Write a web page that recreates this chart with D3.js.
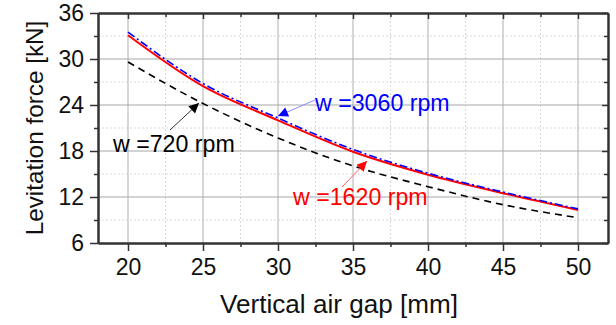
<!DOCTYPE html>
<html>
<head>
<meta charset="utf-8">
<script src="https://cdn.jsdelivr.net/npm/d3@7"></script>
<style>
  body { margin: 0; background: #fff; }
  svg { display: block; font-family: "Liberation Sans", Arial, sans-serif; }
</style>
</head>
<body>
<div id="chart"></div>
<script>
// air gap [mm] and levitation force [kN]
const gap = [20, 25, 30, 35, 40, 45, 50];
const force720 = [29.6, 24.2, 19.7, 16.05, 13.35, 11.0, 9.3];
const force1620 = [33.1, 26.45, 22.0, 17.9, 14.9, 12.5, 10.3];
const force3060 = [33.5, 26.8, 22.3, 18.2, 15.1, 12.65, 10.45];
const xTicks = [20, 25, 30, 35, 40, 45, 50];
const yTicks = [6, 12, 18, 24, 30, 36];

const width = 616, height = 325;
const margin = { left: 98, right: 8, top: 13, bottom: 82 };

const svg = d3.select("#chart").append("svg")
    .attr("width", width)
    .attr("height", height);

const x = d3.scaleLinear().domain([18, 52]).range([margin.left, width - margin.right]);
const y = d3.scaleLinear().domain([6, 36]).range([height - margin.bottom, margin.top]);

const minorX = d3.range(22.5, 52, 5);
const minorY = d3.range(9, 36, 6);

// scale a text's font so it spans about w pixels, like the reference
function fitWidth(sel, w) {
    const fs = parseFloat(sel.attr("font-size"));
    const len = sel.node().getComputedTextLength();
    sel.attr("font-size", (fs * w / len).toFixed(1) + "px");
}

// grid
const grid = svg.append("g");
grid.selectAll(".mx").data(minorX).enter().append("line")
    .attr("x1", d => x(d)).attr("x2", d => x(d))
    .attr("y1", y(6)).attr("y2", y(36))
    .attr("stroke", "#d8d8d8").attr("stroke-dasharray", "2,2");
grid.selectAll(".my").data(minorY).enter().append("line")
    .attr("y1", d => y(d)).attr("y2", d => y(d))
    .attr("x1", x(18)).attr("x2", x(52))
    .attr("stroke", "#d8d8d8").attr("stroke-dasharray", "2,2");
grid.selectAll(".gx").data(xTicks).enter().append("line")
    .attr("x1", d => x(d)).attr("x2", d => x(d))
    .attr("y1", y(6)).attr("y2", y(36))
    .attr("stroke", "#bdbdbd").attr("stroke-width", 1.2);
grid.selectAll(".gy").data(yTicks.slice(1, -1)).enter().append("line")
    .attr("y1", d => y(d)).attr("y2", d => y(d))
    .attr("x1", x(18)).attr("x2", x(52))
    .attr("stroke", "#a8a8a8").attr("stroke-width", 1.2);

// axes
function styleAxis(g) {
    g.select(".domain").attr("stroke", "#333").attr("stroke-width", 2);
    g.selectAll(".tick line").attr("stroke", "#333").attr("stroke-width", 1.5);
    g.selectAll(".tick text").attr("font-size", "23px").attr("fill", "#111");
}

const xAxis = svg.append("g").attr("transform", `translate(0,${y(6)})`)
    .call(d3.axisBottom(x).tickValues(xTicks).tickSize(8).tickPadding(5).tickSizeOuter(0));
styleAxis(xAxis);
xAxis.selectAll(".tick text").attr("dy", "0.82em");
svg.append("g").attr("transform", `translate(0,${y(6)})`)
    .call(d3.axisBottom(x).tickValues(minorX).tickSize(4).tickFormat("").tickSizeOuter(0))
    .call(styleAxis);

const yAxis = svg.append("g").attr("transform", `translate(${x(18)},0)`)
    .call(d3.axisLeft(y).tickValues(yTicks).tickSize(8).tickPadding(6).tickSizeOuter(0));
styleAxis(yAxis);
svg.append("g").attr("transform", `translate(${x(18)},0)`)
    .call(d3.axisLeft(y).tickValues(minorY).tickSize(4).tickFormat("").tickSizeOuter(0))
    .call(styleAxis);

// top and right: inward ticks
svg.append("g").attr("transform", `translate(0,${y(36)})`)
    .call(d3.axisBottom(x).tickValues(xTicks).tickSize(6).tickFormat("").tickSizeOuter(0))
    .call(styleAxis);
svg.append("g").attr("transform", `translate(0,${y(36)})`)
    .call(d3.axisBottom(x).tickValues(minorX).tickSize(4).tickFormat("").tickSizeOuter(0))
    .call(styleAxis);
svg.append("g").attr("transform", `translate(${x(52)},0)`)
    .call(d3.axisLeft(y).tickValues(yTicks).tickSize(6).tickFormat("").tickSizeOuter(0))
    .call(styleAxis);
svg.append("g").attr("transform", `translate(${x(52)},0)`)
    .call(d3.axisLeft(y).tickValues(minorY).tickSize(4).tickFormat("").tickSizeOuter(0))
    .call(styleAxis);

// axis titles
svg.append("text")
    .attr("x", 339).attr("y", 313)
    .attr("text-anchor", "middle").attr("font-size", "22px").attr("fill", "#111")
    .text("Vertical air gap [mm]")
    .call(fitWidth, 238);
svg.append("text")
    .attr("transform", `translate(43,128) rotate(-90)`)
    .attr("text-anchor", "middle").attr("font-size", "22px").attr("fill", "#111")
    .text("Levitation force [kN]")
    .call(fitWidth, 215);

// curves
const line = vals => d3.line()
    .x((d, i) => x(gap[i]))
    .y(d => y(d))
    .curve(d3.curveMonotoneX)(vals);

svg.append("path").attr("d", line(force720))
    .attr("fill", "none").attr("stroke", "#000").attr("stroke-width", 1.6)
    .attr("stroke-dasharray", "7,5");
svg.append("path").attr("d", line(force1620))
    .attr("fill", "none").attr("stroke", "#ff0000").attr("stroke-width", 2);
svg.append("path").attr("d", line(force3060))
    .attr("fill", "none").attr("stroke", "#0000ff").attr("stroke-width", 1.6)
    .attr("stroke-dasharray", "8,3,2,3");

// annotations with arrows
const defs = svg.append("defs");
[["blk", "#000"], ["red", "#ff0000"], ["blu", "#0000ff"]].forEach(([id, c]) => {
    defs.append("marker")
        .attr("id", "arr-" + id)
        .attr("viewBox", "0 -5 10 10")
        .attr("refX", 10).attr("refY", 0)
        .attr("orient", "auto")
        .attr("markerUnits", "userSpaceOnUse")
        .attr("markerWidth", 13).attr("markerHeight", 10)
        .append("path").attr("d", "M0,-5L10,0L0,5Z").attr("fill", c);
});

const notes = [
    { text: "w =720 rpm", color: "#000", line: "#333", id: "blk", tx: 113, ty: 152, w: 122, from: [170, 130], to: [199, 103] },
    { text: "w =3060 rpm", color: "#0000ff", line: "#8c8cff", id: "blu", tx: 315, ty: 111, w: 135, from: [315, 100], to: [278, 116] },
    { text: "w =1620 rpm", color: "#ff0000", line: "#ff6060", id: "red", tx: 293, ty: 205, w: 135, from: [342, 187], to: [367, 161] }
];
notes.forEach(n => {
    svg.append("line")
        .attr("x1", n.from[0]).attr("y1", n.from[1])
        .attr("x2", n.to[0]).attr("y2", n.to[1])
        .attr("stroke", n.line).attr("stroke-width", 1)
        .attr("marker-end", `url(#arr-${n.id})`);
    svg.append("text")
        .attr("x", n.tx).attr("y", n.ty)
        .attr("font-size", "21px").attr("fill", n.color)
        .text(n.text)
        .call(fitWidth, n.w);
});
</script>
</body>
</html>
